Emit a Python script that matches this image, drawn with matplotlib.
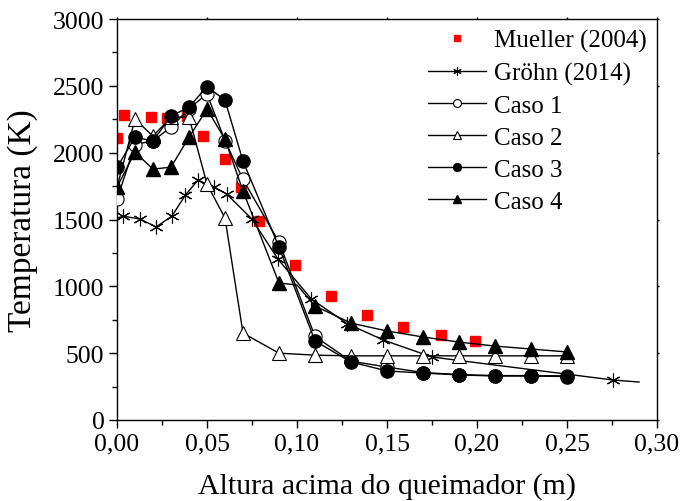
import matplotlib
matplotlib.use("Agg")
import matplotlib.pyplot as plt
from matplotlib.ticker import MultipleLocator, FuncFormatter

plt.rcParams['font.family'] = ['Liberation Serif', 'DejaVu Serif']

# Mueller (2004) experimental
mueller_x = [0.0, 0.004, 0.019, 0.028, 0.039, 0.048, 0.060, 0.069, 0.079, 0.099, 0.119, 0.139, 0.159, 0.180, 0.199]
mueller_y = [2110, 2280, 2266, 2260, 2275, 2125, 1952, 1745, 1490, 1160, 928, 785, 696, 636, 590]

# Gröhn (2014) - first and last points are line-only
grohn_x = [0.0, 0.0035, 0.013, 0.0217, 0.0305, 0.038, 0.045, 0.054, 0.061, 0.075, 0.0894, 0.108, 0.128, 0.148, 0.175, 0.2756, 0.29]
grohn_y = [1510, 1525, 1503, 1444, 1526, 1683, 1795, 1743, 1690, 1503, 1204, 905, 720, 598, 471, 299, 284]
grohn_marks = list(range(1, 16))

caso_x = [0.0, 0.01, 0.02, 0.03, 0.04, 0.05, 0.06, 0.07, 0.09, 0.11, 0.13, 0.15, 0.17, 0.19, 0.21, 0.23, 0.25]
caso1_y = [1650, 2060, 2090, 2190, 2330, 2440, 2090, 1800, 1330, 625, 440, 396, 355, 340, 332, 332, 330]
caso2_y = [1740, 2251, 2124, 2266, 2266, 1765, 1511, 650, 500, 485, 480, 480, 480, 480, 480, 480, 480]
caso3_y = [1890, 2116, 2088, 2274, 2341, 2495, 2393, 1937, 1294, 591, 434, 367, 351, 337, 329, 329, 325]

caso4_x = [0.0, 0.01, 0.02, 0.03, 0.04, 0.05, 0.06, 0.07, 0.09, 0.10, 0.11, 0.13, 0.15, 0.17, 0.19, 0.21, 0.23, 0.25]
caso4_y = [1742, 2004, 1877, 1892, 2116, 2326, 2101, 1713, 1025, 1010, 853, 725, 666, 621, 583, 553, 531, 509]
caso4_marks = [0, 1, 2, 3, 4, 5, 6, 7, 8, 10, 11, 12, 13, 14, 15, 16, 17]

fig = plt.figure(figsize=(6.81, 5.02), dpi=100)
ax = fig.add_axes([0.1718, 0.1614, 0.793, 0.7986])

lw = 1.0
ax.plot(mueller_x, mueller_y, ls='none', marker='s', color='#ff0000', ms=7, mec='#ff0000',
        label='Mueller (2004)', zorder=2)
ax.plot(grohn_x, grohn_y, color='black', lw=lw, marker=(6, 2, 0), ms=10, mew=0.8,
        markevery=grohn_marks, label='Gröhn (2014)', zorder=3)
ax.plot(caso_x, caso1_y, color='black', lw=lw, marker='o', ms=9.5, mfc='white', mec='black',
        mew=0.8, label='Caso 1', zorder=3)
ax.plot(caso_x, caso2_y, color='black', lw=lw, marker='^', ms=10, mfc='white', mec='black',
        mew=0.8, label='Caso 2', zorder=3)
ax.plot(caso_x, caso3_y, color='black', lw=lw, marker='o', ms=9.5, mfc='black', mec='black',
        label='Caso 3', zorder=4)
ax.plot(caso4_x, caso4_y, color='black', lw=lw, marker='^', ms=10, mfc='black', mec='black',
        markevery=caso4_marks, label='Caso 4', zorder=4)

ax.set_xlim(0, 0.30)
ax.set_ylim(0, 3000)
ax.xaxis.set_major_locator(MultipleLocator(0.05))
ax.xaxis.set_minor_locator(MultipleLocator(0.025))
ax.yaxis.set_major_locator(MultipleLocator(500))
ax.yaxis.set_minor_locator(MultipleLocator(250))
ax.xaxis.set_major_formatter(FuncFormatter(lambda v, p: f"{v:.2f}".replace('.', ',')))
ax.yaxis.set_major_formatter(FuncFormatter(lambda v, p: f"{int(round(v))}"))

ax.tick_params(axis='both', which='major', direction='out', length=6, width=1, labelsize=18.5,
               top=True, right=True, pad=3)
ax.tick_params(axis='both', which='minor', direction='out', length=3.5, width=1,
               top=False, right=False)
ax.tick_params(axis='x', which='major', top=True, labeltop=False)
ax.tick_params(axis='y', which='major', right=True, labelright=False)
for t in ax.xaxis.get_major_ticks():
    t.tick2line.set_markersize(1.5)
for t in ax.yaxis.get_major_ticks():
    t.tick2line.set_markersize(1.5)
for s in ax.spines.values():
    s.set_linewidth(1.0)

ax.set_xlabel('Altura acima do queimador (m)', fontsize=21.5, labelpad=13)
ax.set_ylabel('Temperatura (K)', fontsize=24, labelpad=11)

leg = ax.legend(loc='upper right', frameon=False, fontsize=18, markerscale=0.6,
                handlelength=2.3, handletextpad=0.35, labelspacing=0.38,
                borderaxespad=0.0, bbox_to_anchor=(1.0, 1.0))

fig.savefig('out.png', dpi=100)
